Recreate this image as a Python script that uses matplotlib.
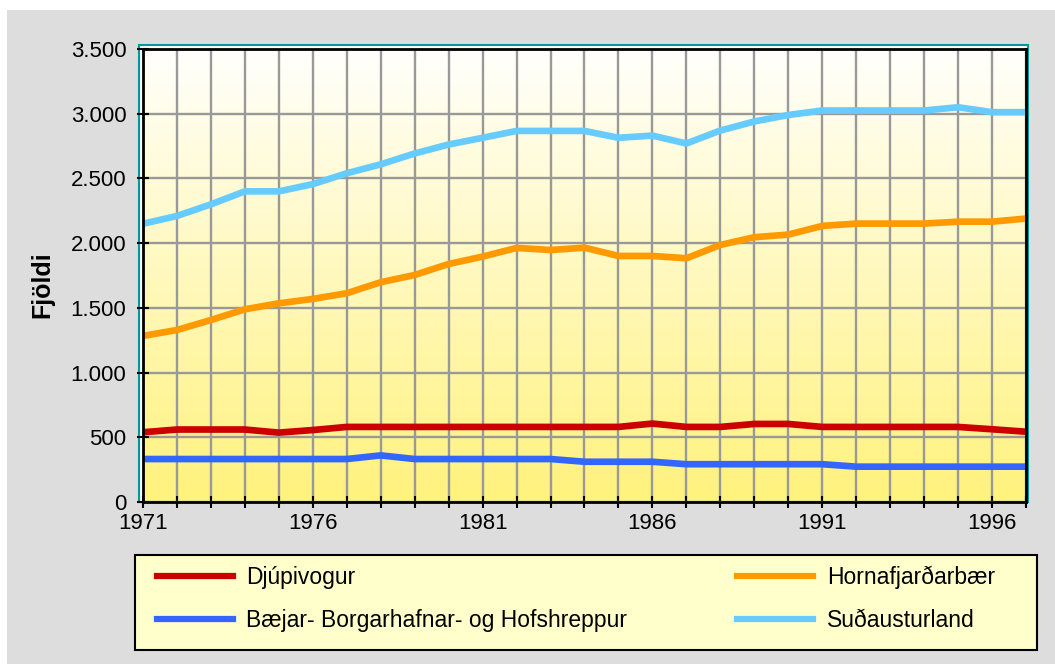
import numpy as np
import matplotlib
matplotlib.use("Agg")
import matplotlib.pyplot as plt
from matplotlib.patches import Rectangle

plt.rcParams['font.family'] = ['Liberation Sans', 'DejaVu Sans']

years = list(range(1971, 1998))

djupivogur = [539, 560, 560, 560, 536, 556, 580, 580, 580, 580, 580, 580, 580, 580,
              580, 606, 580, 580, 603, 603, 580, 580, 580, 580, 580, 562, 543]
hornafjordur = [1283, 1329, 1406, 1489, 1535, 1569, 1613, 1698, 1754, 1839, 1896, 1963,
                1947, 1965, 1901, 1901, 1883, 1986, 2046, 2066, 2133, 2151, 2151, 2151,
                2166, 2166, 2190]
baejar = [332, 332, 332, 332, 332, 332, 332, 360, 332, 332, 332, 332, 332, 311,
          311, 311, 292, 292, 292, 292, 292, 273, 273, 273, 273, 273, 273]
sudausturland = [2150, 2210, 2300, 2400, 2400, 2456, 2540, 2609, 2693, 2762, 2814, 2867,
                 2867, 2867, 2814, 2831, 2770, 2870, 2940, 2990, 3025, 3025, 3025, 3025,
                 3050, 3012, 3012]

series = [
    ("Djúpivogur", djupivogur, "#CC0000"),
    ("Bæjar- Borgarhafnar- og Hofshreppur", baejar, "#3366FF"),
    ("Hornafjarðarbær", hornafjordur, "#FF9900"),
    ("Suðausturland", sudausturland, "#66CCFF"),
]

y_ticks = [0, 500, 1000, 1500, 2000, 2500, 3000, 3500]
y_labels = ["0", "500", "1.000", "1.500", "2.000", "2.500", "3.000", "3.500"]
x_labels = [str(y) if (y - 1971) % 5 == 0 else "" for y in years]

W, H = 1055, 664
fig = plt.figure(figsize=(W / 100, H / 100), dpi=100, facecolor="white")

# grey backdrop, teal plot-area frame, legend box
fig.patches.append(Rectangle((7 / W, 0), 1 - 7 / W, 1 - 10 / H, transform=fig.transFigure,
                             facecolor="#DDDDDD", edgecolor="none", zorder=-10))
fig.patches.append(Rectangle((139 / W, 1 - 502 / H), (1028 - 139) / W, (502 - 45) / H,
                             transform=fig.transFigure, facecolor="white",
                             edgecolor="#009999", lw=1.5, zorder=-5))
fig.patches.append(Rectangle((135 / W, 1 - 650 / H), (1037 - 135) / W, 95 / H,
                             transform=fig.transFigure, facecolor="#FFFFCC",
                             edgecolor="black", lw=1.5, zorder=-5))

ax = fig.add_axes([143 / W, 1 - 502 / H, (1026 - 143) / W, (502 - 49) / H])

# vertical gradient: near white at top to yellow at bottom
top = np.array([255, 255, 252]) / 255
bot = np.array([255, 242, 125]) / 255
t = np.linspace(0, 1, 256)[:, None]
grad = (top * (1 - t) + bot * t)[:, None, :]
ax.imshow(grad, extent=[1971, 1997, 0, 3500], aspect="auto", origin="upper", zorder=0)

for name, vals, col in series:
    ax.plot(years, vals, color=col, lw=4.8, label=name, zorder=3, solid_joinstyle="round")

ax.set_xlim(1971, 1997)
ax.set_ylim(0, 3500)
ax.set_xticks(years)
ax.set_xticklabels(x_labels)
ax.set_yticks(y_ticks)
ax.set_yticklabels(y_labels)
ax.grid(True, color="#999999", lw=1.7, zorder=1)
ax.set_axisbelow(False)
for gl in ax.get_xgridlines() + ax.get_ygridlines():
    gl.set_zorder(1)

ax.tick_params(axis="both", direction="inout", length=8, width=1.5, color="black",
               labelsize=16)
ax.tick_params(axis="x", pad=4)
ax.tick_params(axis="y", pad=8)
for s in ax.spines.values():
    s.set_color("black")
    s.set_linewidth(2)
    s.set_zorder(4)

ax.set_ylabel("Fjöldi", fontsize=18, fontweight="bold")
ax.yaxis.set_label_coords(-0.10, 0.48)

leg = ax.legend(loc="upper left", bbox_to_anchor=(157 / W, 1 - 566 / H),
                bbox_transform=fig.transFigure, ncol=2, fontsize=16.5, frameon=False,
                handlelength=3.3, handletextpad=0.6, labelspacing=0.85,
                columnspacing=4.8, borderpad=0, borderaxespad=0)
for ln in leg.get_lines():
    ln.set_linewidth(4.5)

fig.savefig("out.png", dpi=100, facecolor=fig.get_facecolor())
